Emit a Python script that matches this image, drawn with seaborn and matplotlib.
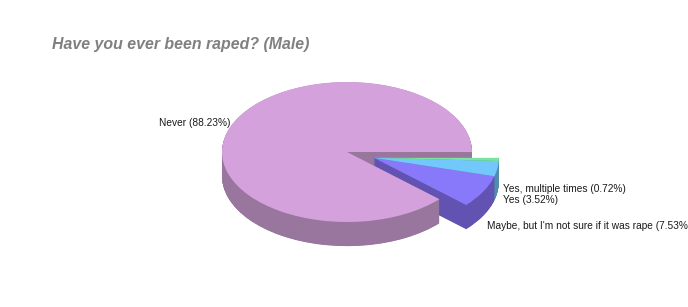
import numpy as np
import matplotlib
matplotlib.use("Agg")
import matplotlib.pyplot as plt
import seaborn as sns

# ---- data ----
title = "Have you ever been raped? (Male)"
categories = ["Never", "Maybe, but I'm not sure if it was rape", "Yes", "Yes, multiple times"]
shares = [88.23, 7.53, 3.52, 0.72]
top_colors = ["#D5A1DC", "#8878FA", "#72C8FA", "#78E6A0"]
side_colors = ["#98769E", "#6252B2", "#508CAF", "#4FA575"]

sns.set_theme(style="white")
plt.rcParams['font.family'] = ['Liberation Sans', 'DejaVu Sans']

fig = plt.figure(figsize=(6.88, 3.07), dpi=100)
ax = fig.add_axes([0, 0, 1, 1])

fracs = np.array(shares) / sum(shares)
never_end = 360 * fracs[0]
group_mid = np.deg2rad((never_end + 360) / 2)
explode = 0.23
off = (explode * np.cos(group_mid), explode * np.sin(group_mid))
depth = 0.345


def draw(dy, colors):
    main = [colors[0]] + ['none'] * (len(colors) - 1)
    rest = ['none'] + list(colors[1:])
    ax.pie(shares, colors=main, startangle=0, center=(0, -dy), radius=1,
           wedgeprops=dict(linewidth=0))
    ax.pie(shares, colors=rest, startangle=0, center=(off[0], off[1] - dy), radius=1,
           wedgeprops=dict(linewidth=0))


for dy in np.linspace(depth, 0.004, 70):
    draw(dy, side_colors)
draw(0, top_colors)

ax.set_aspect('auto')
ax.set_xlim(-347 / 125, 341 / 125)
ax.set_ylim(-155 / 70, 152 / 70)
ax.axis('off')

# labels
lab = [f"{c} ({s:.2f}%)" for c, s in zip(categories, shares)]
tc = "#1a1a1a"
fs = 7.3
ax.text(-0.936, 0.414, lab[0], ha='right', va='center', fontsize=fs, color=tc)
ax.text(1.248, -0.529, lab[3], ha='left', va='center', fontsize=fs, color=tc)
ax.text(1.248, -0.686, lab[2], ha='left', va='center', fontsize=fs, color=tc)
ax.text(1.12, -1.057, lab[1], ha='left', va='center', fontsize=fs, color=tc)

fig.text(52 / 688, 1 - 49.3 / 307, title, ha='left', va='baseline', fontsize=11.4,
         style='italic', weight='bold', color='#808080')

fig.savefig("out.png", dpi=100, facecolor='white')
